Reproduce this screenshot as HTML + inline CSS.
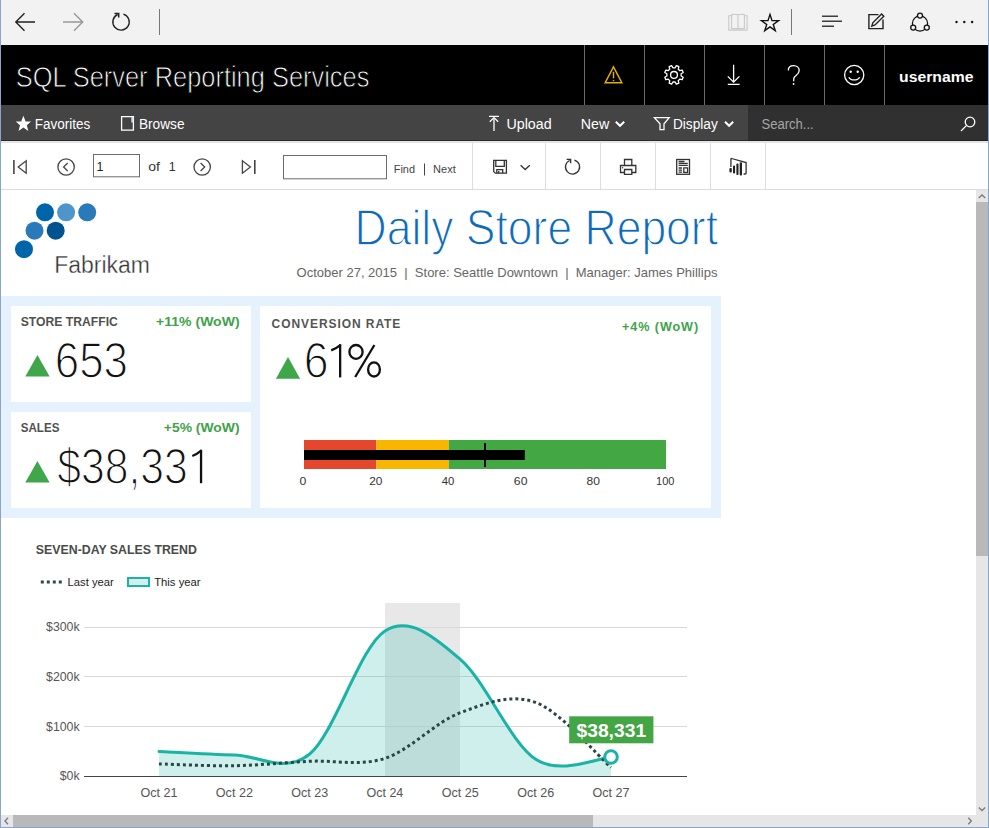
<!DOCTYPE html>
<html lang="en">
<head>
<meta charset="utf-8">
<title>Daily Store Report - SQL Server Reporting Services</title>
<style>
html,body{margin:0;padding:0;}
body{width:989px;height:828px;overflow:hidden;position:relative;background:#fff;font-family:"Liberation Sans",sans-serif;}
.blk{position:absolute;}
#chrome{left:0;top:0;width:989px;height:45px;background:#f2f2f2;}
#hdr{left:0;top:45px;width:989px;height:60px;background:#000;}
#nav{left:0;top:105px;width:989px;height:35px;background:#444;}
#navline{left:0;top:140px;width:989px;height:1px;background:#2b2b2b;}
#navsh{left:0;top:141px;width:989px;height:2px;background:#e4e4e4;}
#search{left:748px;top:105px;width:240px;height:35px;background:#303030;}
#search2{left:748px;top:140px;width:240px;height:1px;background:#222;}
#tbline{left:0;top:189px;width:989px;height:1px;background:#dcdcdc;}
#vscroll{left:976px;top:190px;width:12px;height:625px;background:#e6e6e6;}
#vthumb{left:976px;top:202px;width:12px;height:354px;background:#b9b9b9;}
#hscroll{left:1px;top:815px;width:987px;height:12px;background:#e6e6e6;}
#hthumb{left:13px;top:815px;width:580px;height:12px;background:#b9b9b9;}
#kpi{left:1px;top:296px;width:720px;height:222px;background:#e5f1fc;}
.card{position:absolute;background:#fff;}
#bl{left:0;top:0;width:1px;height:828px;background:#87a5d0;}
#br{left:988px;top:0;width:1px;height:828px;background:#87a5d0;}
#bb{left:0;top:827px;width:989px;height:1px;background:#87a5d0;}
svg{position:absolute;left:0;top:0;}
text{font-family:"Liberation Sans",sans-serif;}
</style>
</head>
<body>
<div class="blk" id="chrome"></div>
<div class="blk" id="hdr"></div>
<div class="blk" id="nav"></div>
<div class="blk" id="navline"></div>
<div class="blk" id="navsh"></div>
<div class="blk" id="search"></div>
<div class="blk" id="search2"></div>
<div class="blk" id="tbline"></div>
<div class="blk" id="kpi"></div>
<div class="card" style="left:11px;top:306px;width:240px;height:96px;"></div>
<div class="card" style="left:11px;top:412px;width:240px;height:96px;"></div>
<div class="card" style="left:260px;top:306px;width:451px;height:202px;"></div>
<div class="blk" id="vscroll"></div>
<div class="blk" id="vthumb"></div>
<div class="blk" id="hscroll"></div>
<div class="blk" id="hthumb"></div>
<svg width="989" height="828" viewBox="0 0 989 828">
<!-- browser chrome icons -->
<g fill="none" stroke="#222" stroke-width="1.4">
  <path d="M16,22 H35 M24.5,13.2 L15.8,22 L24.5,30.8"/>
  <path d="M63,22 H82.5 M74,13.2 L82.7,22 L74,30.8" stroke="#999"/>
  <path d="M123.4,14.1 A8.2,8.2 0 1 1 117.6,14.5"/>
  <path d="M114.5,13.6 H118.7 V17.6" stroke-width="1.5"/>
</g>
<line x1="159.5" y1="9" x2="159.5" y2="35" stroke="#777" stroke-width="1"/>
<line x1="791.5" y1="9" x2="791.5" y2="35" stroke="#777" stroke-width="1"/>
<g fill="none" stroke="#c9c9c9" stroke-width="1.1">
  <path d="M731.4,15.8 H728.8 V30.1 H747.1 V15.8 H744.6"/>
  <path d="M731.6,28.6 V14.6 Q735,13.9 738,14.8 V28.6 Z M738,14.8 Q741,13.9 744.4,14.6 V28.6 H738"/>
  <path d="M738,28.6 V30.1"/>
</g>
<path d="M770.00,14.40 L772.02,20.62 L778.56,20.62 L773.27,24.46 L775.29,30.68 L770.00,26.84 L764.71,30.68 L766.73,24.46 L761.44,20.62 L767.98,20.62 Z" fill="none" stroke="#111" stroke-width="1.4" stroke-linejoin="miter"/>
<g stroke="#111" stroke-width="1.2">
  <line x1="822" y1="16.2" x2="838" y2="16.2"/>
  <line x1="822" y1="21.2" x2="842" y2="21.2"/>
  <line x1="822" y1="26.2" x2="834" y2="26.2"/>
</g>
<g fill="none" stroke="#222" stroke-width="1.4">
  <path d="M883,19.5 V28.6 H868.9 V14.6 H878.5"/>
  <path d="M871.8,26.2 L872.8,22.8 L881.6,14 L883.8,16.2 L875,25 Z"/>
</g>
<g fill="none" stroke="#111" stroke-width="1.3">
  <circle cx="920" cy="23.5" r="7.6"/>
</g>
<g fill="#f2f2f2" stroke="#111" stroke-width="1.3">
  <circle cx="920" cy="15.6" r="2.5"/>
  <circle cx="913.2" cy="27.6" r="2.5"/>
  <circle cx="926.8" cy="27.6" r="2.5"/>
</g>
<g fill="#111"><circle cx="956.5" cy="22" r="1.2"/><circle cx="964.3" cy="22" r="1.2"/><circle cx="972.1" cy="22" r="1.2"/></g>

<!-- header separators -->
<g stroke="#6a6a6a" stroke-width="1">
  <line x1="584.5" y1="45" x2="584.5" y2="105"/>
  <line x1="644.5" y1="45" x2="644.5" y2="105"/>
  <line x1="704.5" y1="45" x2="704.5" y2="105"/>
  <line x1="764.5" y1="45" x2="764.5" y2="105"/>
  <line x1="824.5" y1="45" x2="824.5" y2="105"/>
  <line x1="884.5" y1="45" x2="884.5" y2="105"/>
</g>
<!-- header icons -->
<g fill="none" stroke="#e0b000" stroke-width="1.4" stroke-linejoin="miter">
  <path d="M613.5,66.8 L621.9,82.8 L605.1,82.8 Z"/>
  <line x1="613.5" y1="71.8" x2="613.5" y2="78.3"/>
</g>
<circle cx="613.5" cy="80.6" r="0.8" fill="#e0b000"/>
<g fill="none" stroke="#fff" stroke-width="1.3">
  <path id="gear" d="M675.13,67.79 L676.36,65.70 L678.84,66.72 L678.23,69.08 L679.82,70.67 L682.18,70.06 L683.20,72.54 L681.11,73.77 L681.11,76.03 L683.20,77.26 L682.18,79.74 L679.82,79.13 L678.23,80.72 L678.84,83.08 L676.36,84.10 L675.13,82.01 L672.87,82.01 L671.64,84.10 L669.16,83.08 L669.77,80.72 L668.18,79.13 L665.82,79.74 L664.80,77.26 L666.89,76.03 L666.89,73.77 L664.80,72.54 L665.82,70.06 L668.18,70.67 L669.77,69.08 L669.16,66.72 L671.64,65.70 L672.87,67.79 Z" stroke-linejoin="round"/>
  <circle cx="674" cy="74.9" r="3.4"/>
  <path d="M733.6,64.8 V82.5 M727.8,76.4 L733.6,82.2 L739.4,76.4 M727.8,84.3 H739.6"/>
  <path d="M788.3,70.5 C788.3,67.5 790.5,65.6 793.6,65.6 C796.8,65.6 799.2,67.6 799.2,70.6 C799.2,73.8 796.6,75 794.6,76.8 C793.7,77.7 793.6,78.6 793.6,81.3"/>
  <circle cx="854.2" cy="75" r="9.6"/>
  <path d="M848.8,77.2 C850.5,80.8 857.9,80.8 859.6,77.2"/>
</g>
<circle cx="793.6" cy="84" r="0.9" fill="#fff"/>
<circle cx="850.7" cy="71.8" r="1.2" fill="#fff"/>
<circle cx="857.7" cy="71.8" r="1.2" fill="#fff"/>

<!-- nav icons -->
<path d="M23.4,115.8 L25.6,121.4 L31,121.4 L26.8,125.2 L28.3,130.9 L23.4,127.6 L18.5,130.9 L20,125.2 L15.8,121.4 L21.2,121.4 Z" fill="#fff"/>
<g fill="none" stroke="#fff" stroke-width="1.3">
  <path d="M121.6,116.6 H133.4 V130.2 H121.6 Z"/>
  <line x1="132.4" y1="117" x2="132.4" y2="122.5" stroke-width="2.2" stroke="#ddd"/>
  <path d="M489,116.4 H499 M494,118 V131"/>
  <path d="M489.8,121.8 L494,117.6 L498.2,121.8"/>
  <path d="M615.8,121.8 L620,125.8 L624.2,121.8" stroke-width="2"/>
  <path d="M654.4,117.6 H669.2 L664,123.8 V129.6 H660 V123.8 Z"/>
  <path d="M725,121.8 L729.1,125.8 L733.2,121.8" stroke-width="2"/>
  <circle cx="970" cy="122" r="4.8"/>
  <path d="M966.6,125.4 L961,131"/>
</g>

<!-- toolbar -->
<g stroke="#dcdcdc" stroke-width="1">
  <line x1="472.5" y1="143" x2="472.5" y2="189"/>
  <line x1="545.5" y1="143" x2="545.5" y2="189"/>
  <line x1="600.5" y1="143" x2="600.5" y2="189"/>
  <line x1="655.5" y1="143" x2="655.5" y2="189"/>
  <line x1="710.5" y1="143" x2="710.5" y2="189"/>
  <line x1="765.5" y1="143" x2="765.5" y2="189"/>
</g>
<g fill="none" stroke="#444" stroke-width="1.3">
  <line x1="13.9" y1="160" x2="13.9" y2="174" stroke-width="1.6"/>
  <path d="M26.2,160.8 V173.2 L18.2,167 Z"/>
  <circle cx="66.1" cy="167" r="8.2"/>
  <path d="M67.7,163 L63.6,167 L67.7,171"/>
  <circle cx="202.2" cy="167" r="8.2"/>
  <path d="M200.6,163 L204.7,167 L200.6,171"/>
  <path d="M242.4,160.8 V173.2 L250.4,167 Z"/>
  <line x1="254.8" y1="160" x2="254.8" y2="174" stroke-width="1.6"/>
</g>
<rect x="93.5" y="154.5" width="46" height="22.3" fill="#fff" stroke="#6b6b6b" stroke-width="1"/>
<rect x="283.5" y="155.5" width="103" height="23.3" fill="#fff" stroke="#6b6b6b" stroke-width="1"/>
<line x1="424.5" y1="163.5" x2="424.5" y2="175.5" stroke="#444" stroke-width="1"/>
<g fill="none" stroke="#333" stroke-width="1.3">
  <path d="M493.7,160.3 H506.4 V173.2 H495.3 L493.7,171.6 Z"/>
  <path d="M495.8,160.3 V166.3 H504.3 V160.3"/>
  <path d="M496.8,173.2 V169.6 H502.7 V173.2"/>
  <line x1="498.7" y1="171" x2="498.7" y2="173.2"/>
  <path d="M520.6,165.2 L525.2,169.5 L529.8,165.2"/>
  <path d="M574.4,160.1 A7.1,7.1 0 1 1 569.6,160.5"/>
  <path d="M566.6,159.4 H570.6 V163.2" stroke-width="1.4"/>
  <path d="M620.5,165.5 H635.8 V172.5 H620.5 Z"/>
  <path d="M624.5,165.3 V159.5 H631.8 V165.3"/>
  <path d="M624.5,174.3 V169.5 H631.8 V174.3 Z" fill="#fff"/>
  <rect x="676.7" y="159.5" width="12.8" height="14.8"/>
  <path d="M678.6,161.5 H684.5 M678.6,163.4 H687.8 M678.6,165.3 H687.8 M678.6,168 H682 M678.6,170.1 H682 M678.6,172.2 H682"/>
  <rect x="683.8" y="167.9" width="3.8" height="4.5"/>
  <path d="M730.9,167 V159 Q730.9,158.3 731.6,158.5 L746.1,162.6 V173.2 Q746.1,174 745.3,174 H743.6"/>
</g>
<circle cx="622.6" cy="167.7" r="0.7" fill="#333"/>
<g fill="#222">
  <rect x="729.4" y="168" width="2.4" height="4.4" rx="1"/>
  <rect x="733" y="165.6" width="2.1" height="8" rx="0.8"/>
  <rect x="736.4" y="163.6" width="2.1" height="11.4" rx="0.8"/>
  <rect x="739.7" y="162.2" width="2.3" height="13.4" rx="0.8"/>
</g>

<!-- scroll arrows -->
<g fill="none" stroke="#7a7a7a" stroke-width="1.3">
  <path d="M978.8,198 L982,195 L985.2,198"/>
  <path d="M978.8,807.5 L982,810.5 L985.2,807.5"/>
  <path d="M8,817.8 L5,821 L8,824.2"/>
  <path d="M968.3,817.8 L971.3,821 L968.3,824.2"/>
</g>

<!-- logo -->
<g>
  <circle cx="45" cy="212.3" r="9" fill="#0064a9"/>
  <circle cx="66.1" cy="212.3" r="9" fill="#4e95c9"/>
  <circle cx="87.2" cy="212.3" r="9" fill="#2a7aba"/>
  <circle cx="34.5" cy="230.7" r="9" fill="#2a7aba"/>
  <circle cx="55.7" cy="230.7" r="9" fill="#00538f"/>
  <circle cx="24" cy="249.2" r="9" fill="#0064a9"/>
</g>

<!-- KPI triangles -->
<g fill="#3fa64a">
  <path d="M25.3,376.4 L37.45,354.9 L49.6,376.4 Z"/>
  <path d="M25.3,482.4 L37.45,460.9 L49.6,482.4 Z"/>
  <path d="M275.9,378.8 L288,357 L300.1,378.8 Z"/>
</g>
<!-- bullet chart -->
<rect x="304" y="440" width="72.4" height="29" fill="#e4472d"/>
<rect x="376.4" y="440" width="72.4" height="29" fill="#f8b600"/>
<rect x="448.8" y="440" width="217.2" height="29" fill="#43a843"/>
<rect x="304" y="450" width="220.8" height="10" fill="#000"/>
<rect x="484" y="443" width="2" height="24" fill="#000"/>

<!-- legend -->
<line x1="40.8" y1="582" x2="62.5" y2="582" stroke="#2d4b4b" stroke-width="3" stroke-dasharray="3 3"/>
<rect x="128" y="578" width="21" height="8" fill="#d0efed" stroke="#1ab3a6" stroke-width="2"/>

<!-- chart -->
<g>
<rect x="385" y="603" width="75" height="173" fill="#e8e8e8"/>
<g stroke="#d9d9d9" stroke-width="1"><line x1="84" y1="627.5" x2="687" y2="627.5"/><line x1="84" y1="676.5" x2="687" y2="676.5"/><line x1="84" y1="726.5" x2="687" y2="726.5"/></g>
<path d="M159.00,751.50 C171.56,752.08 209.22,754.58 234.33,755.00 C259.44,755.42 284.56,774.67 309.67,754.00 C334.78,733.33 359.89,646.77 385.00,631.00 C410.11,615.23 435.22,638.02 460.33,659.40 C485.44,680.78 510.56,743.00 535.67,759.30 C560.78,775.60 598.44,757.55 611.00,757.20 L611.00,776 L159.00,776 Z" fill="#1ab3a6" fill-opacity="0.21"/>
<line x1="84" y1="776.5" x2="687" y2="776.5" stroke="#444" stroke-width="1"/>
<path d="M159.00,751.50 C171.56,752.08 209.22,754.58 234.33,755.00 C259.44,755.42 284.56,774.67 309.67,754.00 C334.78,733.33 359.89,646.77 385.00,631.00 C410.11,615.23 435.22,638.02 460.33,659.40 C485.44,680.78 510.56,743.00 535.67,759.30 C560.78,775.60 598.44,757.55 611.00,757.20" fill="none" stroke="#1ab3a6" stroke-width="3" stroke-linecap="round"/>
<path d="M159.00,763.91 C171.56,764.21 209.22,766.17 234.33,765.73 C259.44,765.29 284.56,762.51 309.67,761.28 C334.78,760.05 359.89,766.44 385.00,758.34 C410.11,750.24 435.22,722.01 460.33,712.70 C485.44,703.39 510.56,693.33 535.67,702.46 C560.78,711.59 598.44,756.63 611.00,767.46" fill="none" stroke="#2b4545" stroke-width="3" stroke-dasharray="3 3"/>
<rect x="569.2" y="716.3" width="84.2" height="27" fill="#43a543"/>
<circle cx="611" cy="757" r="6.3" fill="#fff" stroke="#1ab3a6" stroke-width="3"/>
</g>
<text x="15.74" y="87.45" font-size="29.78571428571429" fill="#fff" textLength="353.67" lengthAdjust="spacingAndGlyphs" stroke="#000" stroke-width="0.9" xml:space="preserve">SQL Server Reporting Services</text>
<text x="899.06" y="82.00" font-size="14.5" fill="#fff" font-weight="bold" textLength="74.36" lengthAdjust="spacingAndGlyphs" xml:space="preserve">username</text>
<text x="34.72" y="129.00" font-size="14" fill="#fff" textLength="55.48" lengthAdjust="spacingAndGlyphs" xml:space="preserve">Favorites</text>
<text x="138.91" y="129.00" font-size="14" fill="#fff" textLength="45.59" lengthAdjust="spacingAndGlyphs" xml:space="preserve">Browse</text>
<text x="506.50" y="129.00" font-size="14" fill="#fff" textLength="45.10" lengthAdjust="spacingAndGlyphs" xml:space="preserve">Upload</text>
<text x="580.86" y="129.00" font-size="14" fill="#fff" textLength="28.43" lengthAdjust="spacingAndGlyphs" xml:space="preserve">New</text>
<text x="672.90" y="129.00" font-size="14" fill="#fff" textLength="44.90" lengthAdjust="spacingAndGlyphs" xml:space="preserve">Display</text>
<text x="761.48" y="129.00" font-size="14" fill="#a6a6a6" textLength="52.17" lengthAdjust="spacingAndGlyphs" xml:space="preserve">Search...</text>
<text x="96.53" y="171.30" font-size="12.5" fill="#222" xml:space="preserve">1</text>
<text x="148.24" y="171.30" font-size="12" fill="#333" textLength="11.73" lengthAdjust="spacingAndGlyphs" xml:space="preserve">of</text>
<text x="168.72" y="171.30" font-size="12.5" fill="#333" xml:space="preserve">1</text>
<text x="393.72" y="173.30" font-size="11.8" fill="#444" textLength="21.29" lengthAdjust="spacingAndGlyphs" xml:space="preserve">Find</text>
<text x="433.12" y="173.30" font-size="11.8" fill="#444" textLength="22.66" lengthAdjust="spacingAndGlyphs" xml:space="preserve">Next</text>
<text x="54.19" y="272.88" font-size="23.500000000000004" fill="#333" textLength="95.84" lengthAdjust="spacingAndGlyphs" stroke="#fff" stroke-width="0.35" xml:space="preserve">Fabrikam</text>
<text x="354.59" y="244.65" font-size="50.457142857142856" fill="#0f6ab9" textLength="363.46" lengthAdjust="spacingAndGlyphs" stroke="#fff" stroke-width="1.3" xml:space="preserve">Daily Store Report</text>
<text x="296.58" y="277.10" font-size="13" fill="#666" xml:space="preserve">October 27, 2015  |  Store: Seattle Downtown  |  Manager: James Phillips</text>
<text x="20.76" y="326.00" font-size="12.6" fill="#505050" font-weight="bold" textLength="97.11" lengthAdjust="spacingAndGlyphs" xml:space="preserve">STORE TRAFFIC</text>
<text x="156.14" y="326.00" font-size="12.6" fill="#3fa34a" font-weight="bold" textLength="83.46" lengthAdjust="spacingAndGlyphs" xml:space="preserve">+11% (WoW)</text>
<text x="54.81" y="378.10" font-size="49.6" fill="#111" textLength="73.18" lengthAdjust="spacingAndGlyphs" stroke="#fff" stroke-width="1.4" xml:space="preserve">653</text>
<text x="20.77" y="432.00" font-size="12.6" fill="#505050" font-weight="bold" textLength="38.66" lengthAdjust="spacingAndGlyphs" xml:space="preserve">SALES</text>
<text x="163.84" y="432.00" font-size="12.6" fill="#3fa34a" font-weight="bold" textLength="75.75" lengthAdjust="spacingAndGlyphs" xml:space="preserve">+5% (WoW)</text>
<text x="57.17" y="484.10" font-size="49.6" fill="#111" textLength="130.57" lengthAdjust="spacingAndGlyphs" stroke="#fff" stroke-width="1.4" xml:space="preserve">$38,33</text>
<text x="271.57" y="328.30" font-size="12" fill="#555" font-weight="bold" textLength="128.82" lengthAdjust="spacing" xml:space="preserve">CONVERSION RATE</text>
<text x="622.04" y="330.70" font-size="12.6" fill="#3fa34a" font-weight="bold" textLength="76.05" lengthAdjust="spacing" xml:space="preserve">+4% (WoW)</text>
<text x="303.87" y="378.20" font-size="49.6" fill="#111" textLength="24.85" lengthAdjust="spacingAndGlyphs" stroke="#fff" stroke-width="1.4" xml:space="preserve">6</text>
<text x="299.63" y="485.10" font-size="11" fill="#333" textLength="6.81" lengthAdjust="spacingAndGlyphs" xml:space="preserve">0</text>
<text x="369.21" y="485.10" font-size="11" fill="#333" textLength="13.22" lengthAdjust="spacingAndGlyphs" xml:space="preserve">20</text>
<text x="441.77" y="485.10" font-size="11" fill="#333" textLength="12.64" lengthAdjust="spacingAndGlyphs" xml:space="preserve">40</text>
<text x="513.89" y="485.10" font-size="11" fill="#333" textLength="13.55" lengthAdjust="spacingAndGlyphs" xml:space="preserve">60</text>
<text x="586.52" y="485.10" font-size="11" fill="#333" textLength="13.42" lengthAdjust="spacingAndGlyphs" xml:space="preserve">80</text>
<text x="656.03" y="485.10" font-size="11" fill="#333" xml:space="preserve">100</text>
<text x="35.85" y="554.20" font-size="13.2" fill="#4a4a4a" font-weight="bold" textLength="161.04" lengthAdjust="spacingAndGlyphs" xml:space="preserve">SEVEN-DAY SALES TREND</text>
<text x="67.60" y="586.00" font-size="11.3" fill="#222" textLength="46.14" lengthAdjust="spacingAndGlyphs" xml:space="preserve">Last year</text>
<text x="154.17" y="586.00" font-size="11.3" fill="#222" xml:space="preserve">This year</text>
<text x="46.06" y="631.00" font-size="12.3" fill="#555" xml:space="preserve">$300k</text>
<text x="46.06" y="680.80" font-size="12.3" fill="#555" xml:space="preserve">$200k</text>
<text x="46.06" y="730.50" font-size="12.3" fill="#555" xml:space="preserve">$100k</text>
<text x="59.75" y="780.30" font-size="12.3" fill="#555" xml:space="preserve">$0k</text>
<text x="140.50" y="796.60" font-size="12.2" fill="#555" textLength="37.08" lengthAdjust="spacingAndGlyphs" xml:space="preserve">Oct 21</text>
<text x="215.83" y="796.60" font-size="12.2" fill="#555" textLength="37.08" lengthAdjust="spacingAndGlyphs" xml:space="preserve">Oct 22</text>
<text x="291.16" y="796.60" font-size="12.2" fill="#555" textLength="36.96" lengthAdjust="spacingAndGlyphs" xml:space="preserve">Oct 23</text>
<text x="366.50" y="796.60" font-size="12.2" fill="#555" textLength="36.83" lengthAdjust="spacingAndGlyphs" xml:space="preserve">Oct 24</text>
<text x="441.83" y="796.60" font-size="12.2" fill="#555" textLength="36.96" lengthAdjust="spacingAndGlyphs" xml:space="preserve">Oct 25</text>
<text x="517.16" y="796.60" font-size="12.2" fill="#555" textLength="36.96" lengthAdjust="spacingAndGlyphs" xml:space="preserve">Oct 26</text>
<text x="592.50" y="796.60" font-size="12.2" fill="#555" textLength="37.08" lengthAdjust="spacingAndGlyphs" xml:space="preserve">Oct 27</text>
<text x="576.51" y="737.10" font-size="19" fill="#fff" font-weight="bold" textLength="69.60" lengthAdjust="spacingAndGlyphs" xml:space="preserve">$38,331</text>
<g fill="none" stroke="#111" stroke-width="2.3">
<ellipse cx="356" cy="351.9" rx="6.6" ry="6.9"/>
<ellipse cx="374" cy="369.4" rx="5.9" ry="7.1"/>
<line x1="374.4" y1="345" x2="355.2" y2="377"/>
</g>
<g fill="none" stroke="#111" stroke-width="2.3">
<path d="M340.15,344.2 V377.4"/>
<path d="M340.6,344.8 Q336,348.6 331.2,350.4" stroke-width="2.2"/>
<path d="M201.05,449.8 V483.2"/>
<path d="M201.5,450.4 Q197,454.2 192.3,456" stroke-width="2.2"/>
</g>
</svg>
<div class="blk" id="bl"></div>
<div class="blk" id="br"></div>
<div class="blk" id="bb"></div>
</body>
</html>
